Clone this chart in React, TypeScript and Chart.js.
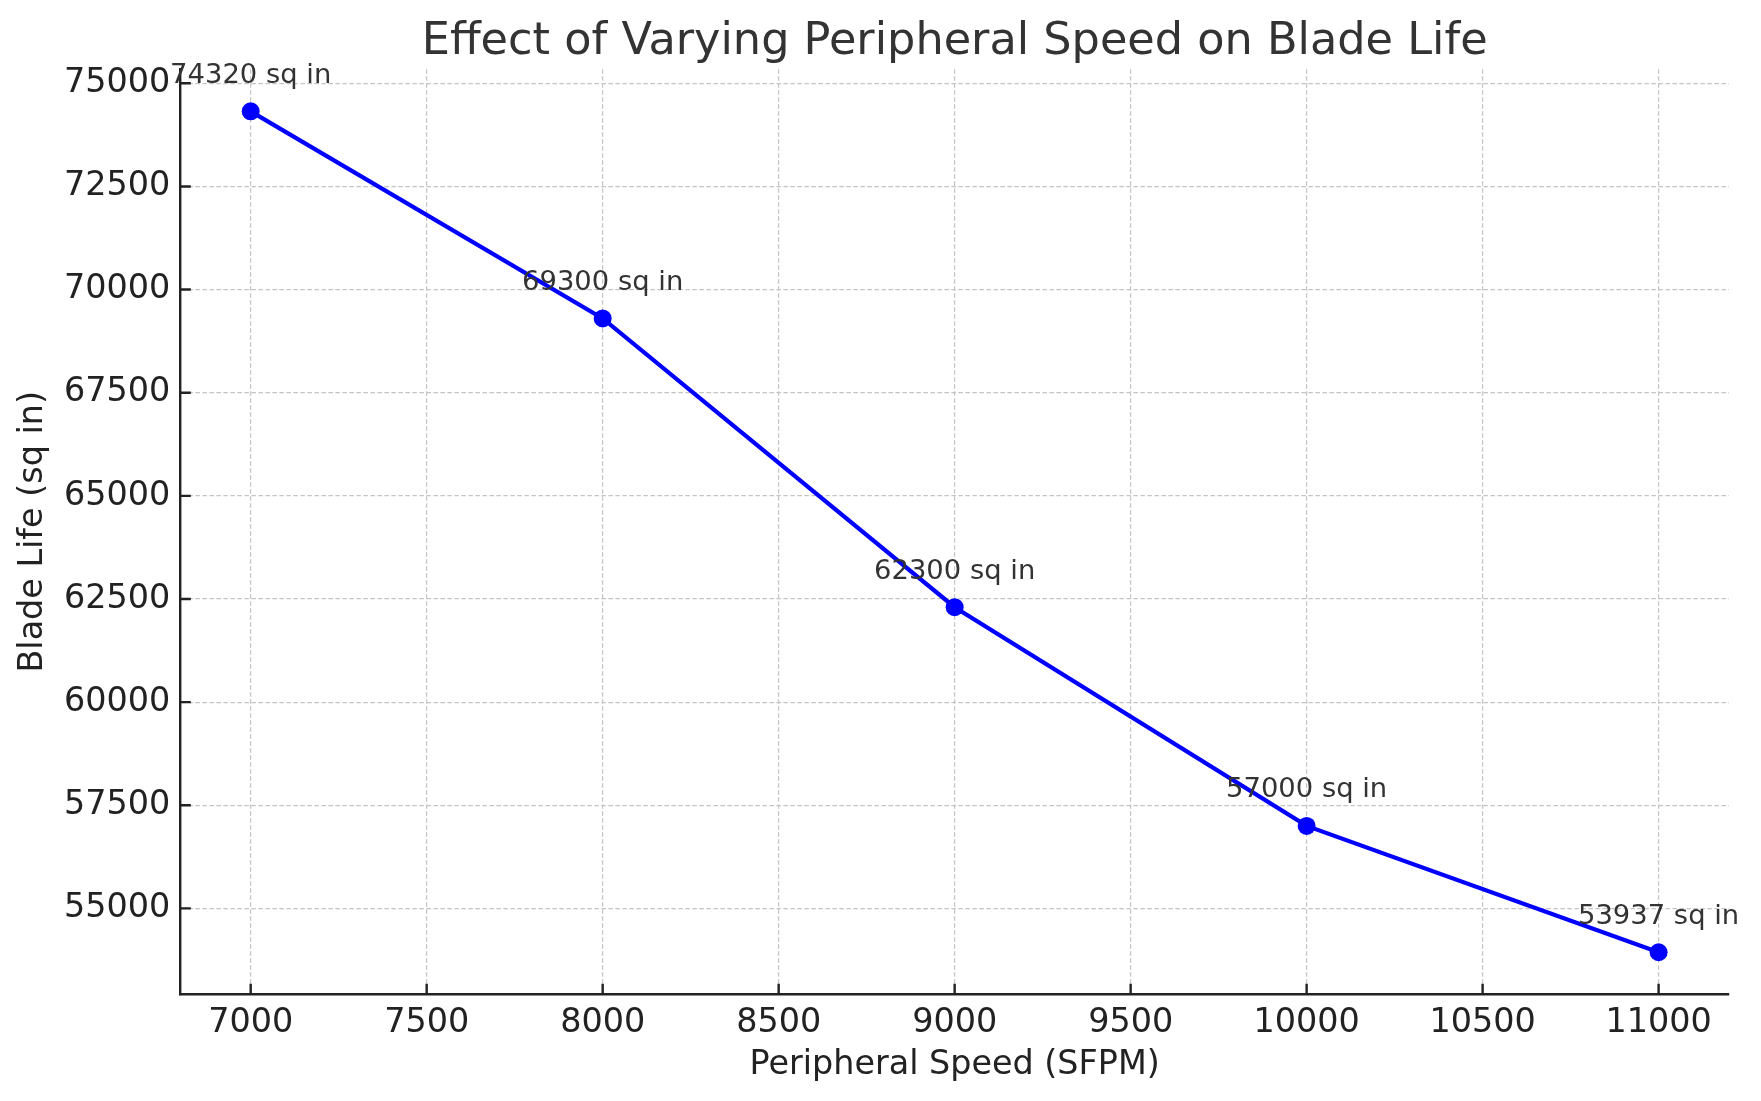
import { useEffect, useRef } from "react";
import { Chart, registerables } from "chart.js";

Chart.register(...registerables);

// ---- data ----
const speeds = [7000, 8000, 9000, 10000, 11000];
const bladeLife = [74320, 69300, 62300, 57000, 53937];
const pointLabels = ["74320 sq in", "69300 sq in", "62300 sq in", "57000 sq in", "53937 sq in"];
const xTicks = [7000, 7500, 8000, 8500, 9000, 9500, 10000, 10500, 11000];
const yTicks = [55000, 57500, 60000, 62500, 65000, 67500, 70000, 72500, 75000];
const xRange = [6800, 11200];
const yRange = [52918, 75339];
const chartTitle = "Effect of Varying Peripheral Speed on Blade Life";
const xLabel = "Peripheral Speed (SFPM)";
const yLabel = "Blade Life (sq in)";

const FONT = "'DejaVu Sans', sans-serif";

const decorPlugin = {
  id: "decor",
  afterDatasetsDraw(chart: any) {
    const ctx = chart.ctx;
    const xs = chart.scales.x;
    const ys = chart.scales.y;
    const a = chart.chartArea;
    ctx.save();
    // inward tick marks
    ctx.strokeStyle = "#222";
    ctx.lineWidth = 2.4;
    ctx.beginPath();
    xTicks.forEach((v) => {
      const px = xs.getPixelForValue(v);
      ctx.moveTo(px, a.bottom);
      ctx.lineTo(px, a.bottom - 10.5);
    });
    yTicks.forEach((v) => {
      const py = ys.getPixelForValue(v);
      ctx.moveTo(a.left, py);
      ctx.lineTo(a.left + 10.5, py);
    });
    ctx.stroke();
    // point annotations
    ctx.fillStyle = "#333";
    ctx.font = `27.4px ${FONT}`;
    ctx.textAlign = "center";
    ctx.textBaseline = "alphabetic";
    speeds.forEach((s, i) => {
      ctx.fillText(pointLabels[i], xs.getPixelForValue(s), ys.getPixelForValue(bladeLife[i]) - 28.5);
    });
    // title centred over the plot area
    ctx.fillStyle = "#333";
    ctx.font = `44.6px ${FONT}`;
    ctx.textAlign = "center";
    ctx.textBaseline = "alphabetic";
    ctx.fillText(chartTitle, (a.left + a.right) / 2, 53.5);
    ctx.restore();
  },
};

export default function App() {
  const ref = useRef<HTMLCanvasElement | null>(null);

  useEffect(() => {
    if (!ref.current) return;
    const gridCommon = {
      color: "#c4c4c4",
      lineWidth: 1.2,
      drawTicks: false,
    };
    const chart = new Chart(ref.current, {
      type: "line",
      data: {
        datasets: [
          {
            data: speeds.map((s, i) => ({ x: s, y: bladeLife[i] })),
            borderColor: "#0000ff",
            backgroundColor: "#0000ff",
            borderWidth: 4.2,
            pointRadius: 9,
            pointHoverRadius: 9,
            pointBorderWidth: 0,
            pointBackgroundColor: "#0000ff",
            tension: 0,
            fill: false,
          },
        ],
      },
      options: {
        responsive: false,
        animation: false,
        devicePixelRatio: 1,
        layout: { padding: { top: 69.3, right: 32, left: 0, bottom: 0 } },
        plugins: {
          legend: { display: false },
          tooltip: { enabled: false },
          title: { display: false },
        },
        scales: {
          x: {
            type: "linear",
            min: xRange[0],
            max: xRange[1],
            afterBuildTicks: (scale: any) => {
              scale.ticks = xTicks.map((v) => ({ value: v }));
            },
            afterFit: (scale: any) => {
              scale.height = 106.7;
            },
            grid: { ...gridCommon },
            border: { display: true, color: "#222", width: 2.4, dash: [4.5, 2.5] },
            ticks: {
              color: "#222",
              padding: 9.4,
              maxRotation: 0,
              autoSkip: false,
              font: { family: FONT, size: 33.4 },
              callback: (v: any) => String(v),
            },
            title: {
              display: true,
              text: xLabel,
              color: "#222",
              font: { family: FONT, size: 33.4, lineHeight: 1.2 },
              padding: { top: 0, bottom: 16 },
            },
          },
          y: {
            type: "linear",
            min: yRange[0],
            max: yRange[1],
            afterBuildTicks: (scale: any) => {
              scale.ticks = yTicks.map((v) => ({ value: v }));
            },
            afterFit: (scale: any) => {
              scale.width = 180.3;
            },
            grid: { ...gridCommon },
            border: { display: true, color: "#222", width: 2.4, dash: [4.5, 2.5] },
            ticks: {
              color: "#222",
              padding: 10,
              autoSkip: false,
              font: { family: FONT, size: 33.4 },
              callback: (v: any) => String(v),
            },
            title: {
              display: true,
              text: yLabel,
              color: "#222",
              font: { family: FONT, size: 33.4, lineHeight: 1.2 },
              padding: { top: 13, bottom: 0 },
            },
          },
        },
      },
      plugins: [decorPlugin],
    } as any);
    return () => chart.destroy();
  }, []);

  return (
    <div style={{ position: "fixed", left: 0, top: 0, width: 1761, height: 1101, background: "#fff" }}>
      <canvas ref={ref} width={1761} height={1101} style={{ display: "block", width: 1761, height: 1101 }} />
    </div>
  );
}
